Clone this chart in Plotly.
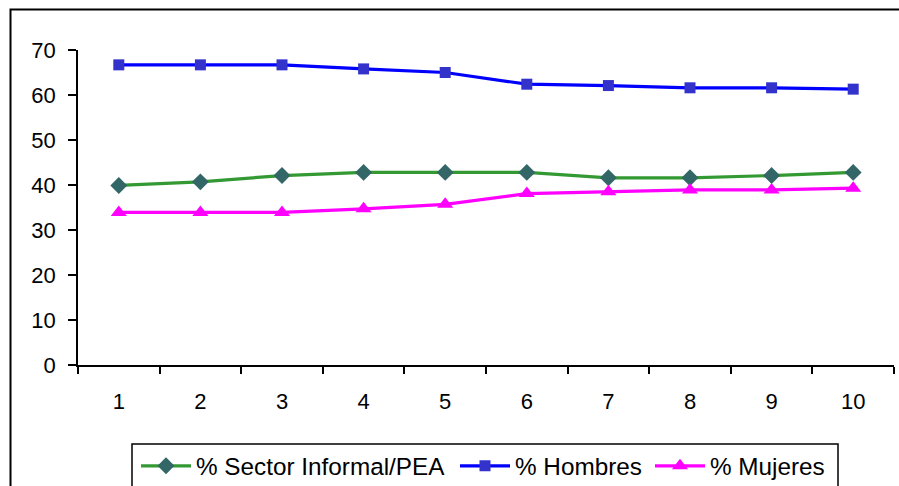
import plotly.graph_objects as go

# Categories on the horizontal axis
categorias = [1, 2, 3, 4, 5, 6, 7, 8, 9, 10]

# Series values (%)
sector_informal = [39.9, 40.7, 42.1, 42.8, 42.8, 42.8, 41.6, 41.6, 42.1, 42.8]
hombres = [66.7, 66.7, 66.7, 65.8, 65.0, 62.4, 62.1, 61.6, 61.6, 61.3]
mujeres = [33.9, 33.9, 33.9, 34.7, 35.7, 38.1, 38.5, 38.9, 38.9, 39.3]

nombres = ["% Sector Informal/PEA", "% Hombres", "% Mujeres"]
y_ticks = [0, 10, 20, 30, 40, 50, 60, 70]

FONT = "Liberation Sans, Arial, sans-serif"

W, H = 899, 486
L, R, T, B = 78, 5, 50, 121
pw, ph = W - L - R, H - T - B


def px_x(x):
    return (x - L) / pw


def px_y(y):
    return (H - B - y) / ph


fig = go.Figure()

fig.add_trace(go.Scatter(
    x=categorias, y=sector_informal, name=nombres[0], mode="lines+markers",
    line=dict(color="#339933", width=3.2),
    marker=dict(symbol="diamond", size=13, color="#336666"),
    legend="legend",
))
fig.add_trace(go.Scatter(
    x=categorias, y=hombres, name=nombres[1], mode="lines+markers",
    line=dict(color="#0000FF", width=3.2),
    marker=dict(symbol="square", size=11, color="#3333CC"),
    legend="legend2",
))
fig.add_trace(go.Scatter(
    x=categorias, y=mujeres, name=nombres[2], mode="lines+markers",
    line=dict(color="#FF00FF", width=3.2),
    marker=dict(symbol="triangle-up", size=14, color="#FF00FF"),
    legend="legend3",
))


def legend_at(x_px):
    return dict(
        orientation="h",
        x=px_x(x_px), xanchor="left",
        y=px_y(466), yanchor="middle",
        font=dict(family=FONT, size=24.3, color="black"),
        bgcolor="rgba(0,0,0,0)", borderwidth=0,
        itemwidth=50,
    )


fig.update_layout(
    width=W, height=H,
    margin=dict(l=L, r=R, t=T, b=B, autoexpand=False),
    paper_bgcolor="white", plot_bgcolor="white",
    font=dict(family=FONT, color="black", size=22),
    showlegend=True,
    legend=legend_at(136),
    legend2=legend_at(455),
    legend3=legend_at(650),
    xaxis=dict(
        type="category",
        range=[-0.5, 9.5],
        tickson="boundaries",
        ticks="outside", ticklen=7, tickwidth=1.5, tickcolor="black",
        showline=True, linecolor="black", linewidth=1.5,
        showgrid=False, zeroline=False,
        tickfont=dict(family=FONT, size=22, color="black"),
        ticklabelstandoff=16,
        fixedrange=True,
    ),
    yaxis=dict(
        range=[0, 70],
        tickvals=y_ticks,
        ticks="outside", ticklen=8, tickwidth=1.5, tickcolor="black",
        showline=True, linecolor="black", linewidth=1.5,
        showgrid=False, zeroline=False,
        tickfont=dict(family=FONT, size=22, color="black"),
        ticklabelstandoff=8,
        fixedrange=True,
    ),
    shapes=[
        # outer chart frame (runs past the right and bottom edges)
        dict(type="rect", xref="paper", yref="paper",
             x0=px_x(10.5), x1=px_x(905), y0=px_y(495), y1=px_y(9.5),
             line=dict(color="black", width=2), fillcolor="rgba(0,0,0,0)",
             layer="below"),
        # legend frame
        dict(type="rect", xref="paper", yref="paper",
             x0=px_x(132), x1=px_x(838), y0=px_y(500), y1=px_y(444),
             line=dict(color="black", width=1.5), fillcolor="rgba(0,0,0,0)",
             layer="below"),
    ],
)

fig.write_html("out.html")
